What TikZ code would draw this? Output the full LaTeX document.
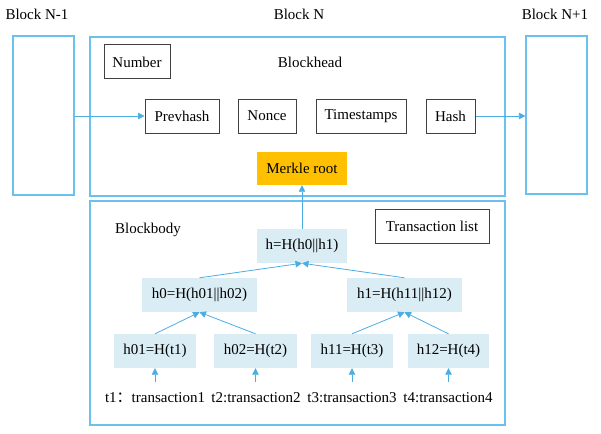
\documentclass[tikz,border=0pt]{standalone}
\usepackage{fontspec}
\setmainfont{Liberation Serif}
\newfontfamily\cjk{Noto Sans CJK SC}
\usetikzlibrary{arrows.meta}
\definecolor{lblue}{HTML}{6CC0EE}
\definecolor{ablue}{HTML}{4AAEE4}
\definecolor{tfill}{HTML}{DAEDF4}
\definecolor{mroot}{HTML}{FFC000}
\tikzset{
  txt/.style={font=\fontsize{15}{17}\selectfont},
  blk/.style={draw=lblue, line width=1.2pt, rectangle, inner sep=0pt},
  hbox/.style={draw=black!75, line width=1pt, rectangle, minimum height=34pt, inner sep=0pt, txt},
  tbox/.style={fill=tfill, rectangle, minimum height=34pt, inner sep=0pt, txt},
  lbl/.style={txt, inner sep=0pt},
  arr/.style={draw=ablue, line width=0.8pt, -{Triangle[width=6.5pt,length=6.5pt]}},
}
\begin{document}
\begin{tikzpicture}[x=1pt,y=-1pt]
\useasboundingbox (0,0) rectangle (601,433);
\fill[white] (0,0) rectangle (601,433);
% block labels
\node[lbl] (lN1) at (37,14) {Block N-1};
\node[lbl] (lN) at (299,14) {Block N};
\node[lbl] (lN2) at (555,14) {Block N+1};
% outer boxes
\node[blk, minimum width=61pt, minimum height=159pt] (bprev) at (43.5,115.5) {};
\node[blk, minimum width=61pt, minimum height=158pt] (bnext) at (556.5,115) {};
\node[blk, minimum width=415pt, minimum height=159pt] (head) at (297.5,116.5) {};
\node[blk, minimum width=415pt, minimum height=224pt] (body) at (297.5,313) {};
% head contents
\node[lbl] (headlbl) at (310,62) {Blockhead};
\node[hbox, minimum width=66pt] (num) at (137,62) {Number};
\node[hbox, minimum width=74pt] (prev) at (182,116) {Prevhash};
\node[hbox, minimum width=58pt] (nonce) at (267,116) {Nonce};
\node[hbox, minimum width=90pt] (ts) at (361,116) {Timestamps};
\node[hbox, minimum width=49pt] (hash) at (450.5,116) {Hash};
\node[fill=mroot, rectangle, minimum width=90pt, minimum height=33pt, inner sep=0pt, txt] (mr) at (302,168.5) {Merkle root};
% body contents
\node[lbl] (bodylbl) at (148,230) {Blockbody};
\node[hbox, minimum width=114pt] (tl) at (432,226) {Transaction list};
\node[tbox, minimum width=90pt] (h) at (302,246) {h=H(h0||h1)};
\node[tbox, minimum width=115pt] (h0) at (199.5,295) {h0=H(h01||h02)};
\node[tbox, minimum width=115pt] (h1) at (404.5,295) {h1=H(h11||h12)};
\node[tbox, minimum width=82pt] (h01) at (155,351) {h01=H(t1)};
\node[tbox, minimum width=83pt] (h02) at (255.5,351) {h02=H(t2)};
\node[tbox, minimum width=82pt] (h11) at (352,351) {h11=H(t3)};
\node[tbox, minimum width=81pt] (h12) at (448.5,351) {h12=H(t4)};
\node[lbl] (t1) at (155,398) {t1{\cjk ：}transaction1};
\node[lbl] (t2) at (256,398) {t2:transaction2};
\node[lbl] (t3) at (352,398) {t3:transaction3};
\node[lbl] (t4) at (448,398) {t4:transaction4};
\coordinate (c1) at (155,382);
\coordinate (c2) at (255.5,382);
\coordinate (c3) at (352,382);
\coordinate (c4) at (448.5,382);
% connectors
\draw[arr] (bprev.east |- prev.west) -- (prev.west);
\draw[arr] (hash.east) -- (bnext.west |- hash.east);
\draw[arr] (h.north) -- (mr.south);
\draw[arr] (h0.north) -- (h.south);
\draw[arr] (h1.north) -- (h.south);
\draw[arr] (h01.north) -- (h0.south);
\draw[arr] (h02.north) -- (h0.south);
\draw[arr] (h11.north) -- (h1.south);
\draw[arr] (h12.north) -- (h1.south);
\draw[arr] (c1) -- (h01.south);
\draw[arr] (c2) -- (h02.south);
\draw[arr] (c3) -- (h11.south);
\draw[arr] (c4) -- (h12.south);
\end{tikzpicture}
\end{document}
